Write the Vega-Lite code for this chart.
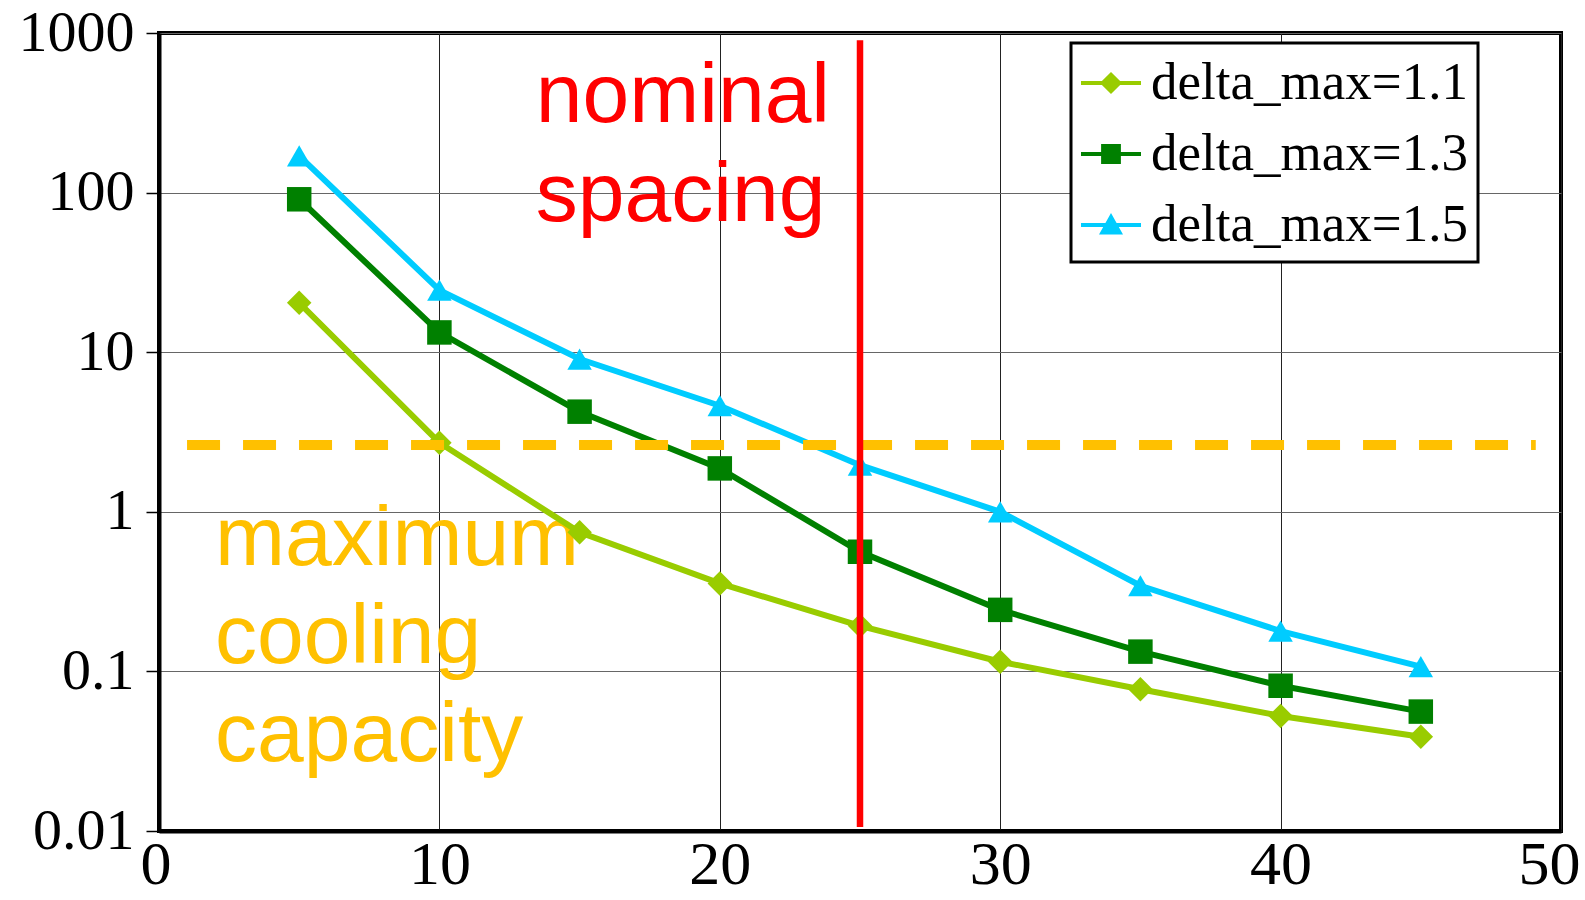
{
  "$schema": "https://vega.github.io/schema/vega-lite/v6.json",
  "autosize": "none",
  "width": 1402,
  "height": 798,
  "padding": {"left": 159, "top": 33, "right": 24, "bottom": 69},
  "background": "white",
  "config": {
    "view": {"stroke": "black", "strokeWidth": 4},
    "axis": {"title": null, "labelColor": "black", "labelFont": "Liberation Serif", "labelOverlap": false, "labelBound": false},
    "legend": {
      "title": null, "orient": "none", "legendX": 912, "legendY": 10, "padding": 10,
      "strokeColor": "black", "strokeWidth": 3, "fillColor": "white",
      "labelFont": "Liberation Serif", "labelFontSize": 53, "labelColor": "black", "labelOffset": 10, "labelLimit": 600,
      "symbolSize": 3600, "rowPadding": 14
    }
  },
  "datasets": {
    "series": [
      {"x": 5, "y": 20.4, "series": "delta_max=1.1"},
      {"x": 10, "y": 2.71, "series": "delta_max=1.1"},
      {"x": 15, "y": 0.744, "series": "delta_max=1.1"},
      {"x": 20, "y": 0.356, "series": "delta_max=1.1"},
      {"x": 25, "y": 0.193, "series": "delta_max=1.1"},
      {"x": 30, "y": 0.115, "series": "delta_max=1.1"},
      {"x": 35, "y": 0.0773, "series": "delta_max=1.1"},
      {"x": 40, "y": 0.0526, "series": "delta_max=1.1"},
      {"x": 45, "y": 0.039, "series": "delta_max=1.1"},
      {"x": 5, "y": 90.8, "series": "delta_max=1.3"},
      {"x": 10, "y": 13.3, "series": "delta_max=1.3"},
      {"x": 15, "y": 4.24, "series": "delta_max=1.3"},
      {"x": 20, "y": 1.87, "series": "delta_max=1.3"},
      {"x": 25, "y": 0.562, "series": "delta_max=1.3"},
      {"x": 30, "y": 0.243, "series": "delta_max=1.3"},
      {"x": 35, "y": 0.133, "series": "delta_max=1.3"},
      {"x": 40, "y": 0.0813, "series": "delta_max=1.3"},
      {"x": 45, "y": 0.056, "series": "delta_max=1.3"},
      {"x": 5, "y": 170, "series": "delta_max=1.5"},
      {"x": 10, "y": 24.5, "series": "delta_max=1.5"},
      {"x": 15, "y": 9.06, "series": "delta_max=1.5"},
      {"x": 20, "y": 4.62, "series": "delta_max=1.5"},
      {"x": 25, "y": 1.96, "series": "delta_max=1.5"},
      {"x": 30, "y": 1.0, "series": "delta_max=1.5"},
      {"x": 35, "y": 0.344, "series": "delta_max=1.5"},
      {"x": 40, "y": 0.179, "series": "delta_max=1.5"},
      {"x": 45, "y": 0.107, "series": "delta_max=1.5"}
    ],
    "capacity": [{"x": 1.0, "x2": 49.1, "y": 2.62}],
    "nominal": [{"x": 25, "y": 900, "y2": 0.0106}],
    "redText": [{"x": 13.44, "y": 277, "text": "nominal\nspacing"}],
    "orangeText": [{"x": 2.0, "y": 0.464, "text": "maximum\ncooling\ncapacity"}]
  },
  "layer": [
    {
      "data": {"name": "redText"},
      "mark": {"type": "text", "font": "Liberation Sans", "fontSize": 84, "color": "#FF0000", "align": "left", "baseline": "alphabetic", "lineBreak": "\n", "lineHeight": 99},
      "encoding": {
        "x": {"field": "x", "type": "quantitative", "scale": {"domain": [0, 50], "nice": false}, "axis": {"values": [0, 10, 20, 30, 40, 50], "grid": true, "gridColor": "#222222", "gridWidth": 1, "ticks": false, "domainColor": "black", "domainWidth": 4, "labelFontSize": 62, "labelPadding": 3, "labelFlush": true, "labelFlushOffset": 19}},
        "y": {"field": "y", "type": "quantitative", "scale": {"type": "log", "domain": [0.01, 1000], "nice": false}, "axis": {"values": [0.01, 0.1, 1, 10, 100, 1000], "format": "~g", "grid": true, "gridColor": "#666666", "gridWidth": 1, "tickSize": 13, "tickWidth": 1.5, "tickColor": "black", "domainColor": "black", "domainWidth": 4, "labelFontSize": 58, "labelPadding": 12, "labelFlush": false}},
        "text": {"field": "text", "type": "nominal"}
      }
    },
    {
      "data": {"name": "orangeText"},
      "mark": {"type": "text", "font": "Liberation Sans", "fontSize": 84, "color": "#FFC000", "align": "left", "baseline": "alphabetic", "lineBreak": "\n", "lineHeight": 98},
      "encoding": {
        "x": {"field": "x", "type": "quantitative"},
        "y": {"field": "y", "type": "quantitative"},
        "text": {"field": "text", "type": "nominal"}
      }
    },
    {
      "data": {"name": "series"},
      "mark": {"type": "line", "strokeWidth": 6},
      "encoding": {
        "x": {"field": "x", "type": "quantitative"},
        "y": {"field": "y", "type": "quantitative"},
        "color": {"field": "series", "type": "nominal", "scale": {"domain": ["delta_max=1.1", "delta_max=1.3", "delta_max=1.5"], "range": ["#99CC00", "#008000", "#00CCFF"]}, "legend": {
          "encode": {"symbols": {"update": {
            "shape": {"signal": "datum.value === 'delta_max=1.1' ? 'M-1,-0.07L1,-0.07L1,0.07L-1,0.07Z M0,-0.37L0.37,0L0,0.37L-0.37,0Z' : datum.value === 'delta_max=1.3' ? 'M-1,-0.07L1,-0.07L1,0.07L-1,0.07Z M-0.33,-0.33L0.33,-0.33L0.33,0.33L-0.33,0.33Z' : 'M-1,-0.07L1,-0.07L1,0.07L-1,0.07Z M0,-0.4L0.4,0.32L-0.4,0.32Z'"},
            "fill": {"scale": "color", "field": "value"},
            "stroke": {"value": "transparent"},
            "strokeWidth": {"value": 0}
          }}}
        }}
      }
    },
    {
      "data": {"name": "series"},
      "transform": [{"filter": "datum.series === 'delta_max=1.1'"}],
      "mark": {"type": "point", "filled": true, "size": 600, "opacity": 1, "shape": "diamond"},
      "encoding": {
        "x": {"field": "x", "type": "quantitative"},
        "y": {"field": "y", "type": "quantitative"},
        "color": {"field": "series", "type": "nominal"}
      }
    },
    {
      "data": {"name": "series"},
      "transform": [{"filter": "datum.series === 'delta_max=1.3'"}],
      "mark": {"type": "point", "filled": true, "size": 600, "opacity": 1, "shape": "square"},
      "encoding": {
        "x": {"field": "x", "type": "quantitative"},
        "y": {"field": "y", "type": "quantitative"},
        "color": {"field": "series", "type": "nominal"}
      }
    },
    {
      "data": {"name": "series"},
      "transform": [{"filter": "datum.series === 'delta_max=1.5'"}],
      "mark": {"type": "point", "filled": true, "size": 600, "opacity": 1, "shape": "triangle-up"},
      "encoding": {
        "x": {"field": "x", "type": "quantitative"},
        "y": {"field": "y", "type": "quantitative"},
        "color": {"field": "series", "type": "nominal"}
      }
    },
    {
      "data": {"name": "capacity"},
      "mark": {"type": "rule", "color": "#FFC000", "strokeWidth": 10, "strokeDash": [33, 23]},
      "encoding": {
        "x": {"field": "x", "type": "quantitative"},
        "x2": {"field": "x2"},
        "y": {"field": "y", "type": "quantitative"}
      }
    },
    {
      "data": {"name": "nominal"},
      "mark": {"type": "rule", "color": "#FF0000", "strokeWidth": 6.5},
      "encoding": {
        "x": {"field": "x", "type": "quantitative"},
        "y": {"field": "y", "type": "quantitative"},
        "y2": {"field": "y2"}
      }
    }
  ]
}
